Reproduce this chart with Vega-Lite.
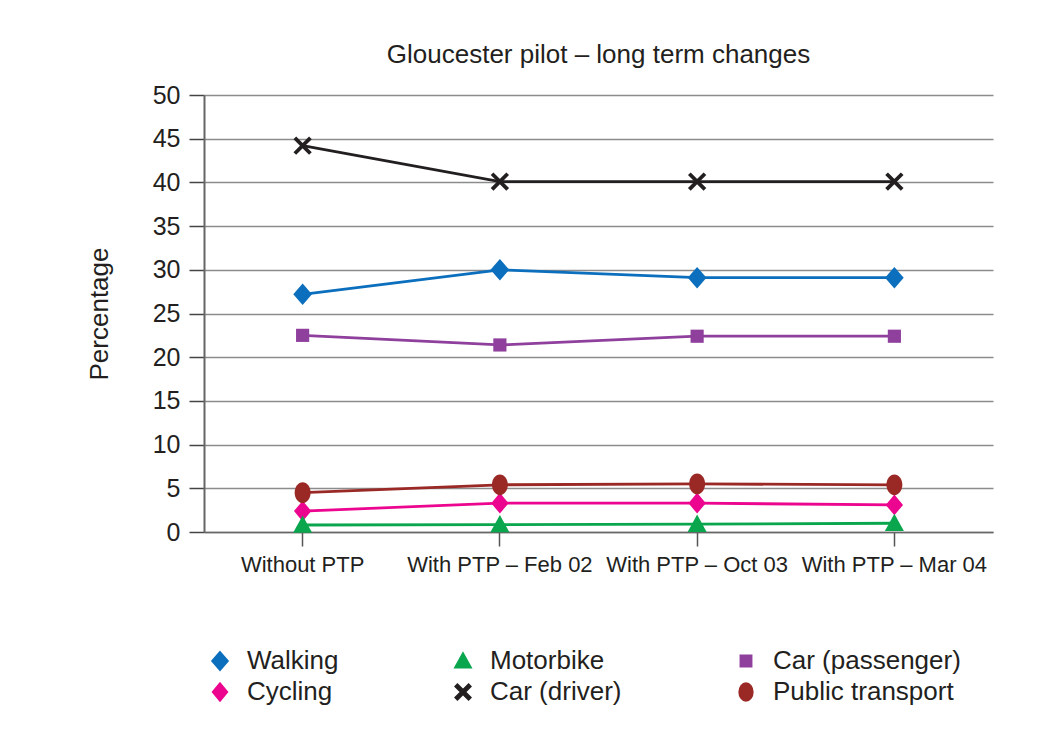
{
  "$schema": "https://vega.github.io/schema/vega-lite/v6.json",
  "width": 789,
  "height": 437,
  "autosize": "none",
  "padding": {"left": 204, "top": 95, "right": 52, "bottom": 213},
  "background": "white",
  "config": {
    "font": "Liberation Sans",
    "view": {"stroke": null},
    "title": {"font": "Liberation Sans", "fontSize": 26, "fontWeight": "normal", "color": "#231f20"}
  },
  "title": {"text": "Gloucester pilot – long term changes", "anchor": "middle", "frame": "group", "baseline": "alphabetic", "offset": -6},
  "data": {
    "values": [
      {"period": "Without PTP", "mode": "Walking", "pct": 27.2},
      {"period": "With PTP – Feb 02", "mode": "Walking", "pct": 30.0},
      {"period": "With PTP – Oct 03", "mode": "Walking", "pct": 29.1},
      {"period": "With PTP – Mar 04", "mode": "Walking", "pct": 29.1},
      {"period": "Without PTP", "mode": "Cycling", "pct": 2.4},
      {"period": "With PTP – Feb 02", "mode": "Cycling", "pct": 3.3},
      {"period": "With PTP – Oct 03", "mode": "Cycling", "pct": 3.3},
      {"period": "With PTP – Mar 04", "mode": "Cycling", "pct": 3.1},
      {"period": "Without PTP", "mode": "Motorbike", "pct": 0.8},
      {"period": "With PTP – Feb 02", "mode": "Motorbike", "pct": 0.85},
      {"period": "With PTP – Oct 03", "mode": "Motorbike", "pct": 0.9},
      {"period": "With PTP – Mar 04", "mode": "Motorbike", "pct": 1.0},
      {"period": "Without PTP", "mode": "Car (driver)", "pct": 44.2},
      {"period": "With PTP – Feb 02", "mode": "Car (driver)", "pct": 40.1},
      {"period": "With PTP – Oct 03", "mode": "Car (driver)", "pct": 40.1},
      {"period": "With PTP – Mar 04", "mode": "Car (driver)", "pct": 40.1},
      {"period": "Without PTP", "mode": "Car (passenger)", "pct": 22.5},
      {"period": "With PTP – Feb 02", "mode": "Car (passenger)", "pct": 21.4},
      {"period": "With PTP – Oct 03", "mode": "Car (passenger)", "pct": 22.4},
      {"period": "With PTP – Mar 04", "mode": "Car (passenger)", "pct": 22.4},
      {"period": "Without PTP", "mode": "Public transport", "pct": 4.5},
      {"period": "With PTP – Feb 02", "mode": "Public transport", "pct": 5.4},
      {"period": "With PTP – Oct 03", "mode": "Public transport", "pct": 5.5},
      {"period": "With PTP – Mar 04", "mode": "Public transport", "pct": 5.4}
    ]
  },
  "encoding": {
    "x": {
      "field": "period", "type": "nominal",
      "sort": ["Without PTP", "With PTP – Feb 02", "With PTP – Oct 03", "With PTP – Mar 04"],
      "scale": {"type": "band", "paddingInner": 0, "paddingOuter": 0},
      "axis": {
        "title": null, "labelAngle": 0,
        "labelFontSize": 22, "labelColor": "#231f20", "labelPadding": 8, "labelLimit": 300,
        "tickSize": 14, "tickColor": "#555555", "tickWidth": 1.5,
        "domain": true, "domainColor": "#666666", "domainWidth": 1.5, "grid": false
      }
    },
    "y": {
      "field": "pct", "type": "quantitative",
      "scale": {"domain": [0, 50], "nice": false},
      "axis": {
        "title": "Percentage", "titleFontSize": 26, "titleFontWeight": "normal", "titleColor": "#231f20", "titlePadding": 40,
        "values": [0, 5, 10, 15, 20, 25, 30, 35, 40, 45, 50],
        "labelFontSize": 25, "labelColor": "#231f20", "labelPadding": 9,
        "tickSize": 15, "tickColor": "#444444", "tickWidth": 1.5,
        "domain": true, "domainColor": "#666666", "domainWidth": 2,
        "grid": true, "gridColor": "#8c8c8c", "gridWidth": 1.3
      }
    },
    "color": {
      "field": "mode", "type": "nominal",
      "scale": {
        "domain": ["Walking", "Motorbike", "Car (passenger)", "Cycling", "Car (driver)", "Public transport"],
        "range": ["#0b6fbd", "#0aa64e", "#8f3f9c", "#ec058e", "#231f20", "#9a2926"]
      },
      "legend": {
        "title": null, "orient": "bottom", "columns": 3, "columnPadding": 108, "rowPadding": 2, "offset": 70,
        "labelFontSize": 26, "labelColor": "#231f20", "labelOffset": 11, "labelLimit": 300,
        "symbolSize": 900
      }
    }
  },
  "layer": [
    {
      "mark": {"type": "line", "strokeWidth": 2.8}
    },
    {
      "mark": {"type": "point", "filled": true, "opacity": 1, "size": 1200},
      "encoding": {
        "shape": {
          "field": "mode", "type": "nominal",
          "scale": {
            "domain": ["Walking", "Motorbike", "Car (passenger)", "Cycling", "Car (driver)", "Public transport"],
            "range": [
              "M0,-0.62L0.54,0L0,0.62L-0.54,0Z",
              "M0,-0.55L0.55,0.45L-0.55,0.45Z",
              "M-0.38,-0.38H0.38V0.38H-0.38Z",
              "M0,-0.6L0.5,0L0,0.6L-0.5,0Z",
              "M-0.372,-0.528L0.528,0.372L0.372,0.528L-0.528,-0.372ZM-0.528,0.372L0.372,-0.528L0.528,-0.372L-0.372,0.528Z",
              "M-0.46,0A0.46,0.6 0 1,0 0.46,0A0.46,0.6 0 1,0 -0.46,0Z"
            ]
          }
        }
      }
    }
  ]
}
